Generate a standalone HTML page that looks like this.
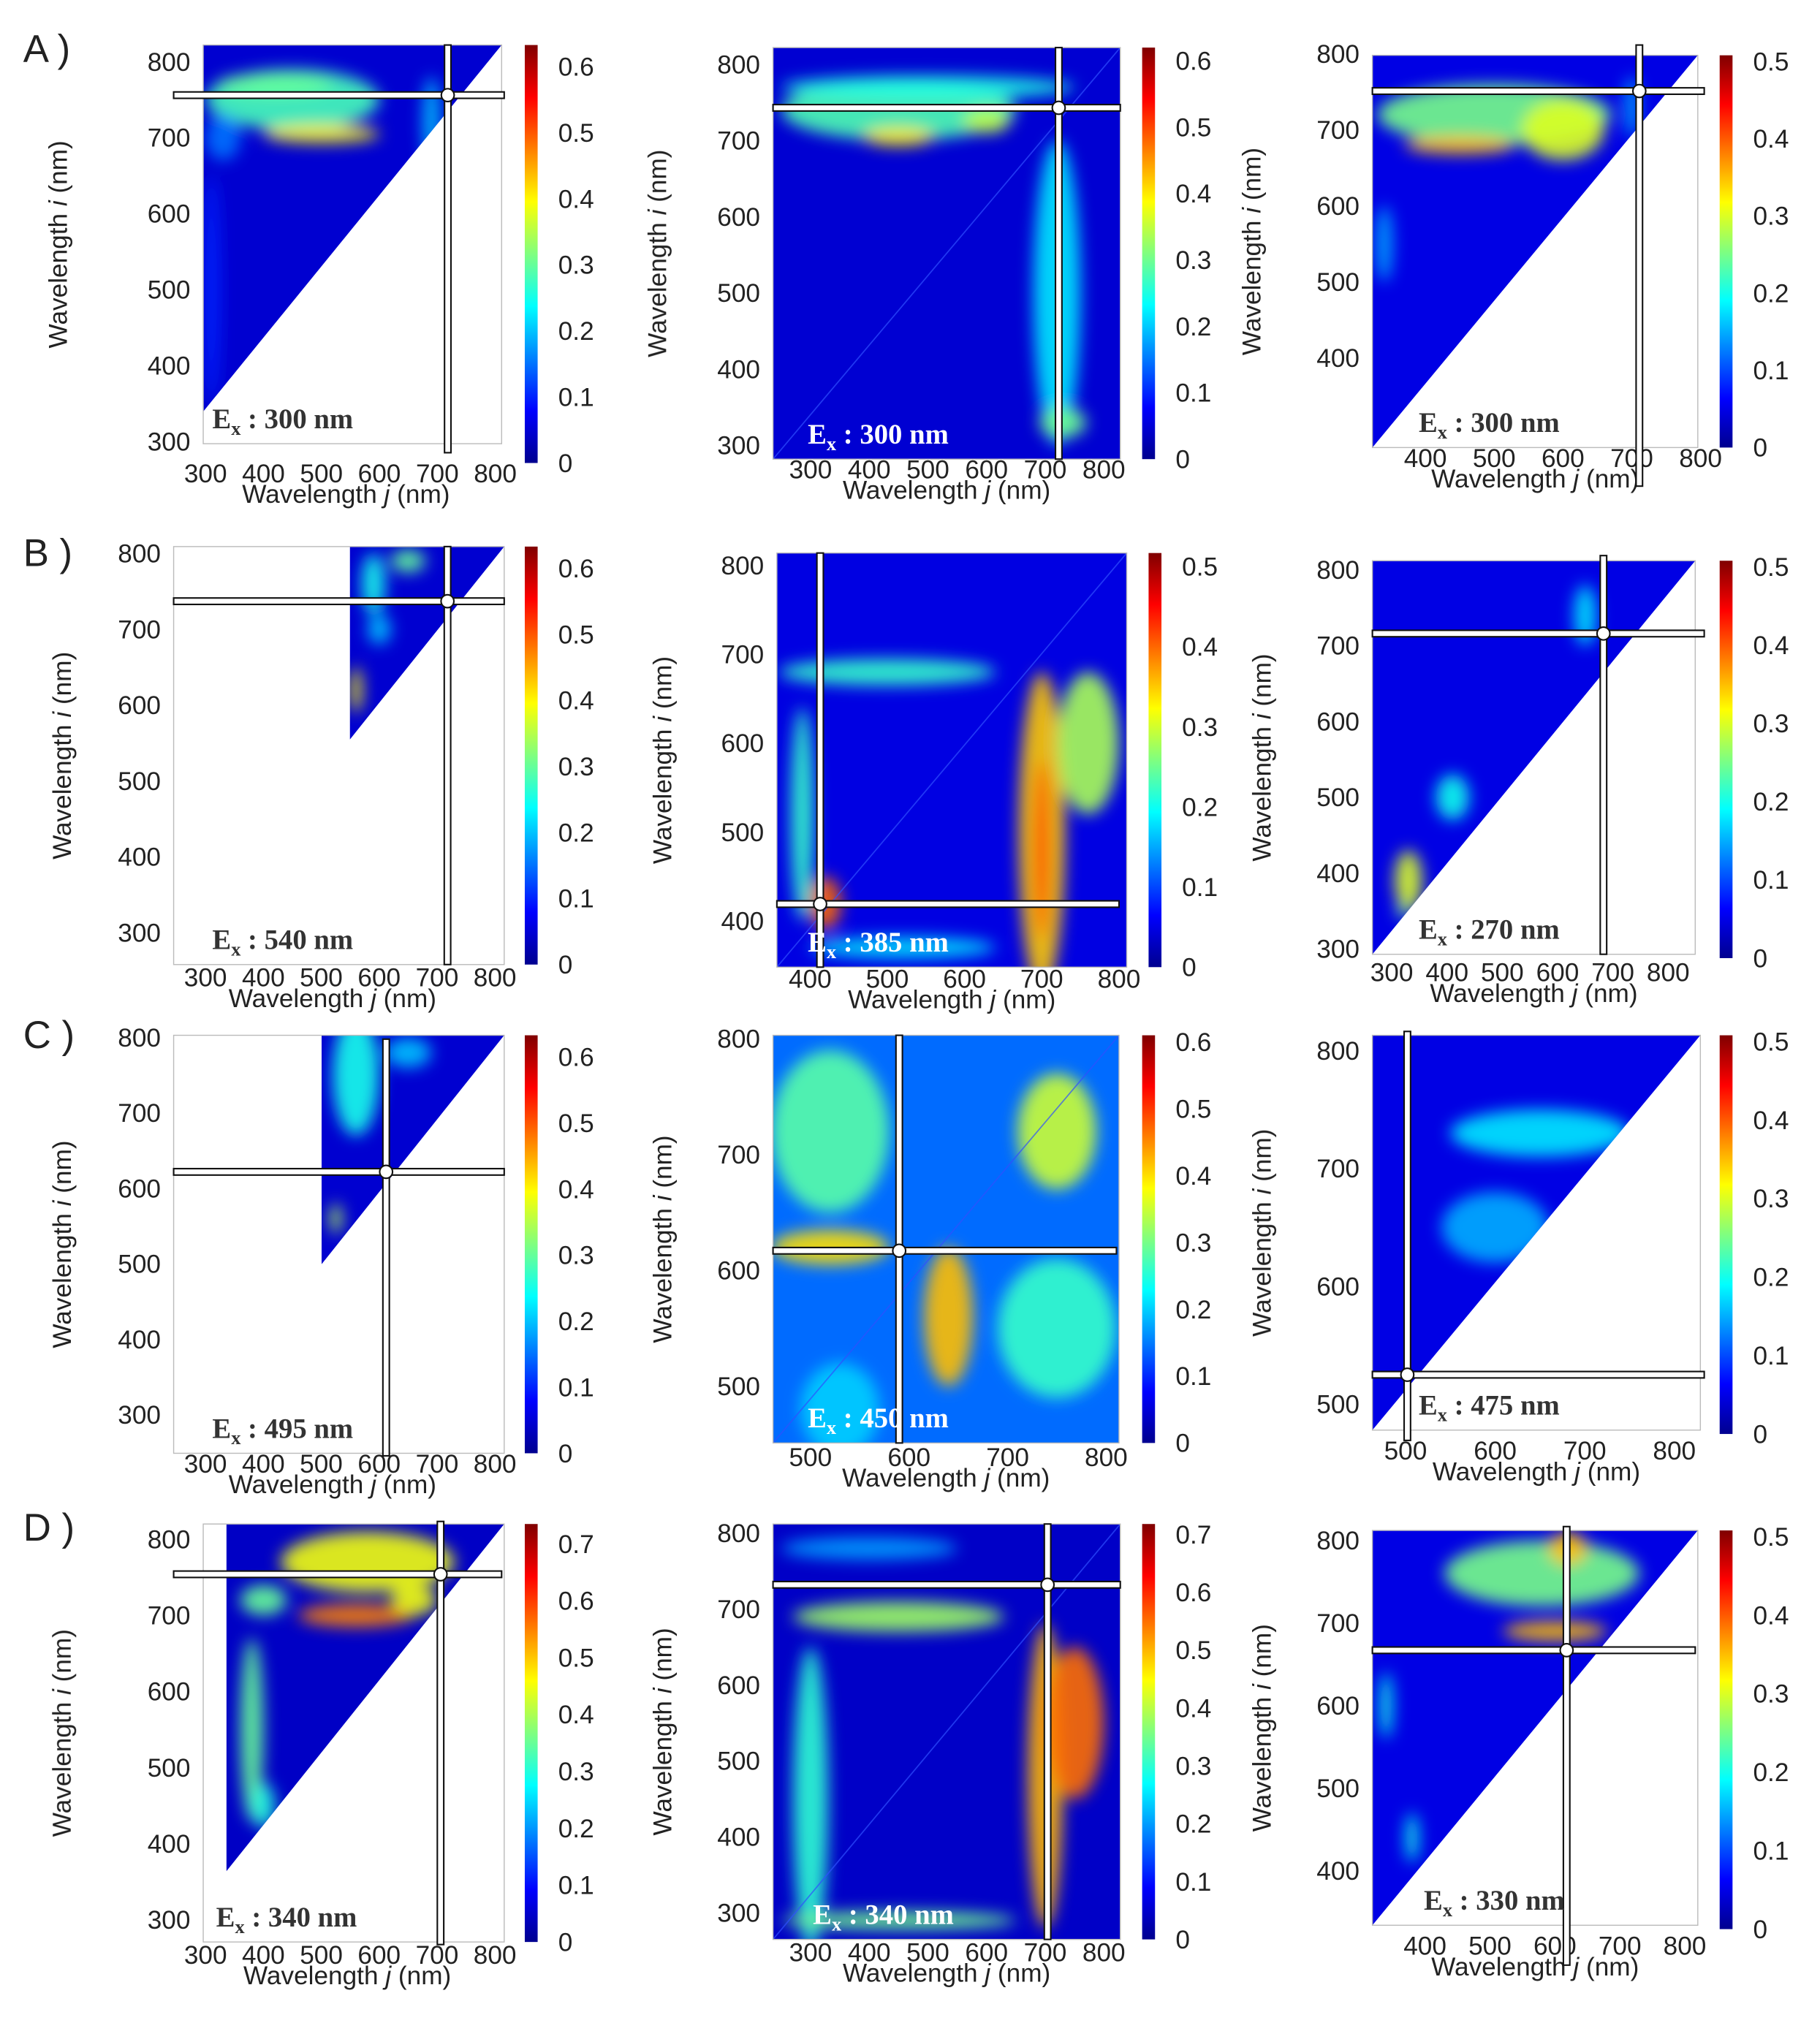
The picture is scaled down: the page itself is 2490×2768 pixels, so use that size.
<!DOCTYPE html>
<html><head><meta charset="utf-8">
<style>
html,body{margin:0;padding:0;background:#fff}
svg{display:block}
text{font-family:"Liberation Sans",sans-serif;fill:#222}
</style></head>
<body>
<svg id="fig" width="2490" height="2768" viewBox="0 0 1415 1573" xmlns="http://www.w3.org/2000/svg">
<defs>
<linearGradient id="jet" x1="0" y1="1" x2="0" y2="0">
<stop offset="0" stop-color="#00008f"/><stop offset="0.125" stop-color="#0000ff"/>
<stop offset="0.375" stop-color="#00ffff"/><stop offset="0.625" stop-color="#ffff00"/>
<stop offset="0.875" stop-color="#ff0000"/><stop offset="1" stop-color="#800000"/>
</linearGradient>
<filter id="blur" x="-50%" y="-50%" width="200%" height="200%"><feGaussianBlur stdDeviation="6"/></filter>
</defs>
<text x="18" y="48" font-size="30">A )</text>
<text x="18" y="440" font-size="30">B )</text>
<text x="18" y="815" font-size="30">C )</text>
<text x="18" y="1198" font-size="30">D )</text>
</svg>
<script>
// blob data: [j (nm), i (nm), j-radius (nm), i-radius (nm), value]
const blobsA1=[[450,750,150,40,0.28],[500,705,100,12,0.4],[420,770,100,15,0.3],[330,700,30,30,0.15],[690,720,15,60,0.2],[310,500,15,150,0.1]];
const blobsA2=[[450,740,200,40,0.28],[450,705,60,12,0.4],[720,500,40,200,0.22],[730,330,40,20,0.3],[500,770,250,15,0.25],[600,725,40,15,0.35]];
const blobsA3=[[500,720,170,40,0.25],[450,680,80,12,0.35],[600,700,60,40,0.3],[340,550,12,50,0.15],[700,730,10,40,0.15]];
const blobsB1=[[590,760,20,40,0.25],[560,620,10,30,0.4],[600,700,20,20,0.2],[650,790,30,15,0.3]];
const blobsB2=[[500,680,140,15,0.22],[700,500,30,180,0.35],[700,480,10,100,0.42],[390,520,15,120,0.22],[420,420,20,30,0.4],[520,370,120,12,0.18],[760,600,40,80,0.28]];
const blobsB3=[[330,390,25,40,0.3],[410,500,30,30,0.2],[650,740,20,40,0.18],[320,350,10,10,0.25]];
const blobsC1=[[560,750,40,80,0.25],[525,560,10,20,0.35],[650,780,40,20,0.2]];
const blobsC2=[[520,720,60,70,0.28],[750,720,40,50,0.35],[520,620,60,15,0.4],[640,560,25,60,0.42],[750,550,60,60,0.26],[530,480,40,40,0.2]];
const blobsC3=[[650,730,100,20,0.18],[600,650,60,30,0.15]];
const blobsD1=[[580,770,150,40,0.45],[560,700,100,15,0.55],[400,720,40,20,0.35],[380,550,20,120,0.35],[400,450,20,30,0.3],[660,720,40,20,0.45]];
const blobsD2=[[450,690,180,20,0.38],[700,480,30,200,0.5],[750,550,50,100,0.55],[300,450,30,200,0.3],[450,290,200,12,0.35],[400,780,150,15,0.2]];
const blobsD3=[[580,760,150,40,0.25],[620,790,30,20,0.35],[600,690,80,12,0.35],[340,600,10,40,0.2],[380,440,10,30,0.2]];
const excitations=[300,300,300,540,385,270,495,450,475,340,340,330];
const cbarMax=[0.633,0.62,0.508,0.633,0.517,0.508,0.633,0.61,0.508,0.735,0.718,0.508];
const cbarTicks6=[0,0.1,0.2,0.3,0.4,0.5,0.6];
const cbarTicks5=[0,0.1,0.2,0.3,0.4,0.5];
const cbarTicks7=[0,0.1,0.2,0.3,0.4,0.5,0.6,0.7];
const xt1=[300,400,500,600,700,800], xt3=[400,500,600,700,800], xtB2=[400,500,600,700,800], xtC=[500,600,700,800];
const yt1=[300,400,500,600,700,800], ytA3=[400,500,600,700,800], ytB2=[400,500,600,700,800], ytC2=[500,600,700,800];
const crossJ=[718,723,711,718,413,683,612,590,502,706,704,618];
const crossI=[756,743,751,737,419,716,622,617,525,754,732,667];

const NS='http://www.w3.org/2000/svg';
const svg=document.getElementById('fig');
function el(t,a,p){const e=document.createElementNS(NS,t);for(const k in a)e.setAttribute(k,a[k]);(p||svg).appendChild(e);return e;}
function jet(t){t=Math.max(0,Math.min(1,t));const c=v=>Math.round(255*Math.max(0,Math.min(1,v)));
 return `rgb(${c(1.5-Math.abs(4*t-3))},${c(1.5-Math.abs(4*t-2))},${c(1.5-Math.abs(4*t-1))})`;}

const panels=[
 {r:[158,390,35,345],xd:[296,811],yd:[297,822],tri:[158,35,390,35,158,320],xt:xt1,yt:yt1,cb:[408,35,360],ct:cbarTicks6,blobs:blobsA1,bg:0.05,xl:375,ylx:52,cross:[135,392,35,352],exx:165},
 {r:[601,871,37,357],xd:[236,828],yd:[282,822],tri:null,xt:xt1,yt:yt1,cb:[888,37,357],ct:cbarTicks6,blobs:blobsA2,bg:0.05,xl:372,ylx:518,cross:[601,871,37,357],exx:628},
 {r:[1067,1320,43,348],xd:[323,796],yd:[282,798],tri:[1067,43,1320,43,1067,348],xt:xt3,yt:ytA3,cb:[1337,43,348],ct:cbarTicks5,blobs:blobsA3,bg:0.05,xl:363,ylx:980,cross:[1067,1325,35,378],exx:1103},
 {r:[135,392,425,750],xd:[245,816],yd:[258,809],tri:[272,425,392,425,272,575],xt:xt1,yt:yt1,cb:[408,425,750],ct:cbarTicks6,blobs:blobsB1,bg:0.05,xl:767,ylx:55,cross:[135,392,425,750],exx:165},
 {r:[604,876,430,752],xd:[357,810],yd:[348,814],tri:null,xt:xtB2,yt:ytB2,cb:[893,430,752],ct:cbarTicks5,blobs:blobsB2,bg:0.05,xl:768,ylx:522,cross:[604,870,430,752],exx:628},
 {r:[1067,1318,436,742],xd:[265,849],yd:[293,812],tri:[1067,436,1318,436,1067,742],xt:xt1,yt:yt1,cb:[1337,436,745],ct:cbarTicks5,blobs:blobsB3,bg:0.05,xl:763,ylx:988,cross:[1067,1325,432,742],exx:1103},
 {r:[135,392,805,1130],xd:[245,816],yd:[249,803],tri:[250,805,392,805,250,983],xt:xt1,yt:yt1,cb:[408,805,1130],ct:cbarTicks6,blobs:blobsC1,bg:0.05,xl:1145,ylx:55,cross:[135,392,808,1132],exx:165},
 {r:[601,870,805,1122],xd:[462,813],yd:[451,803],tri:null,xt:xtC,yt:ytC2,cb:[888,805,1122],ct:cbarTicks6,blobs:blobsC2,bg:0.14,xl:1140,ylx:522,cross:[601,868,805,1122],exx:628},
 {r:[1067,1322,805,1112],xd:[463,829],yd:[478,813],tri:[1067,805,1322,805,1067,1112],xt:xtC,yt:ytC2,cb:[1337,805,1115],ct:cbarTicks5,blobs:blobsC3,bg:0.05,xl:1135,ylx:988,cross:[1067,1325,802,1120],exx:1103},
 {r:[158,392,1185,1510],xd:[296,816],yd:[271,820],tri:[176,1185,392,1185,176,1455],xt:xt1,yt:yt1,cb:[408,1185,1510],ct:cbarTicks7,blobs:blobsD1,bg:0.05,xl:1527,ylx:55,cross:[135,390,1183,1512],exx:168},
 {r:[601,871,1185,1508],xd:[236,828],yd:[265,812],tri:null,xt:xt1,yt:yt1,cb:[888,1185,1508],ct:cbarTicks7,blobs:blobsD2,bg:0.05,xl:1525,ylx:522,cross:[601,871,1185,1508],exx:632},
 {r:[1067,1320,1190,1497],xd:[319,820],yd:[334,812],tri:[1067,1190,1320,1190,1067,1497],xt:xt3,yt:ytA3,cb:[1337,1190,1500],ct:cbarTicks5,blobs:blobsD3,bg:0.05,xl:1520,ylx:988,cross:[1067,1318,1187,1528],exx:1107}
];

panels.forEach((p,k)=>{
 const [x0,x1,y0,y1]=p.r;
 const xs=v=>x0+(v-p.xd[0])/(p.xd[1]-p.xd[0])*(x1-x0);
 const ys=v=>y1-(v-p.yd[0])/(p.yd[1]-p.yd[0])*(y1-y0);
 const max=cbarMax[k];
 const g=el('g',{});
 
 
 const cid='clip'+k;
 const cp=el('clipPath',{id:cid},g);
 if(p.tri) el('polygon',{points:p.tri.join(',')},cp); else el('rect',{x:x0,y:y0,width:x1-x0,height:y1-y0},cp);
 const hg=el('g',{'clip-path':`url(#${cid})`},g);
 const bgr=el('rect',{x:x0,y:y0,width:x1-x0,height:y1-y0,fill:jet(p.bg/max)},hg);
 
 
 const bl=el('g',{filter:'url(#blur)'},hg);
 p.blobs.forEach(b=>{
  const e=el('ellipse',{cx:xs(b[0]),cy:ys(b[1]),rx:Math.abs(xs(b[0]+b[2])-xs(b[0])),ry:Math.abs(ys(b[1]+b[3])-ys(b[1])),fill:jet(b[4]/max),opacity:0.9},bl);
  
  
 });
 if(!p.tri) el('line',{x1:x0,y1:y1,x2:x1,y2:y0,stroke:'#3050ff','stroke-width':1,opacity:0.7},hg);
 el('rect',{x:x0,y:y0,width:x1-x0,height:y1-y0,fill:'none',stroke:'#bbb','stroke-width':0.8},g);
 p.xt.forEach(v=>{const t=el('text',{x:xs(v),y:p.xl,'font-size':20,'text-anchor':'middle'},g);t.textContent=v;
  });
 p.yt.forEach(v=>{const t=el('text',{x:x0-10,y:ys(v)+7,'font-size':20,'text-anchor':'end'},g);t.textContent=v;
  });
 const xl=el('text',{x:(x0+x1)/2+(k%3==0?-5:0),y:p.xl+16,'font-size':20,'text-anchor':'middle'},g);
 xl.innerHTML='Wavelength <tspan font-style="italic">j</tspan> (nm)';
 
 const cy=(y0+y1)/2;
 const yl=el('text',{x:p.ylx,y:cy,'font-size':20,'text-anchor':'middle',transform:`rotate(-90 ${p.ylx} ${cy})`},g);
 yl.innerHTML='Wavelength <tspan font-style="italic">i</tspan> (nm)';
 
 const [cx0,cx1,cy0,cy1]=p.cross;const cx=xs(crossJ[k]),cyy=ys(crossI[k]);
 const hr=el('rect',{x:cx0,y:cyy-2.5,width:cx1-cx0,height:5,fill:'#fff',stroke:'#111','stroke-width':1.2},g);
 
 const vr=el('rect',{x:cx-2.5,y:cy0,width:5,height:cy1-cy0,fill:'#fff',stroke:'#111','stroke-width':1.2},g);
 
 el('rect',{x:cx-1.5,y:cyy-1.5,width:3,height:3,fill:'#fff'},g);
 const c=el('circle',{cx:cx,cy:cyy,r:5,fill:'#fff',stroke:'#111','stroke-width':1.2},g);
 
 const col=p.tri?'#333':'#fff';
 const ex=el('text',{x:p.exx,y:y1-12,'font-size':22,'font-weight':'bold'},g);
 ex.setAttribute('style','font-family:"Liberation Serif",serif;fill:'+col);
 ex.innerHTML=`E<tspan font-size="15" dy="5">x</tspan><tspan dy="-5"> : ${excitations[k]} nm</tspan>`;
 
 const [bx,by0,by1]=p.cb;
 const cb=el('rect',{x:bx,y:by0,width:10,height:by1-by0,fill:'url(#jet)'},g);
 
 p.ct.forEach(v=>{const t=el('text',{x:bx+26,y:by1-(v/max)*(by1-by0)+7,'font-size':20},g);t.textContent=v;
  });
});
</script>
</body></html>
